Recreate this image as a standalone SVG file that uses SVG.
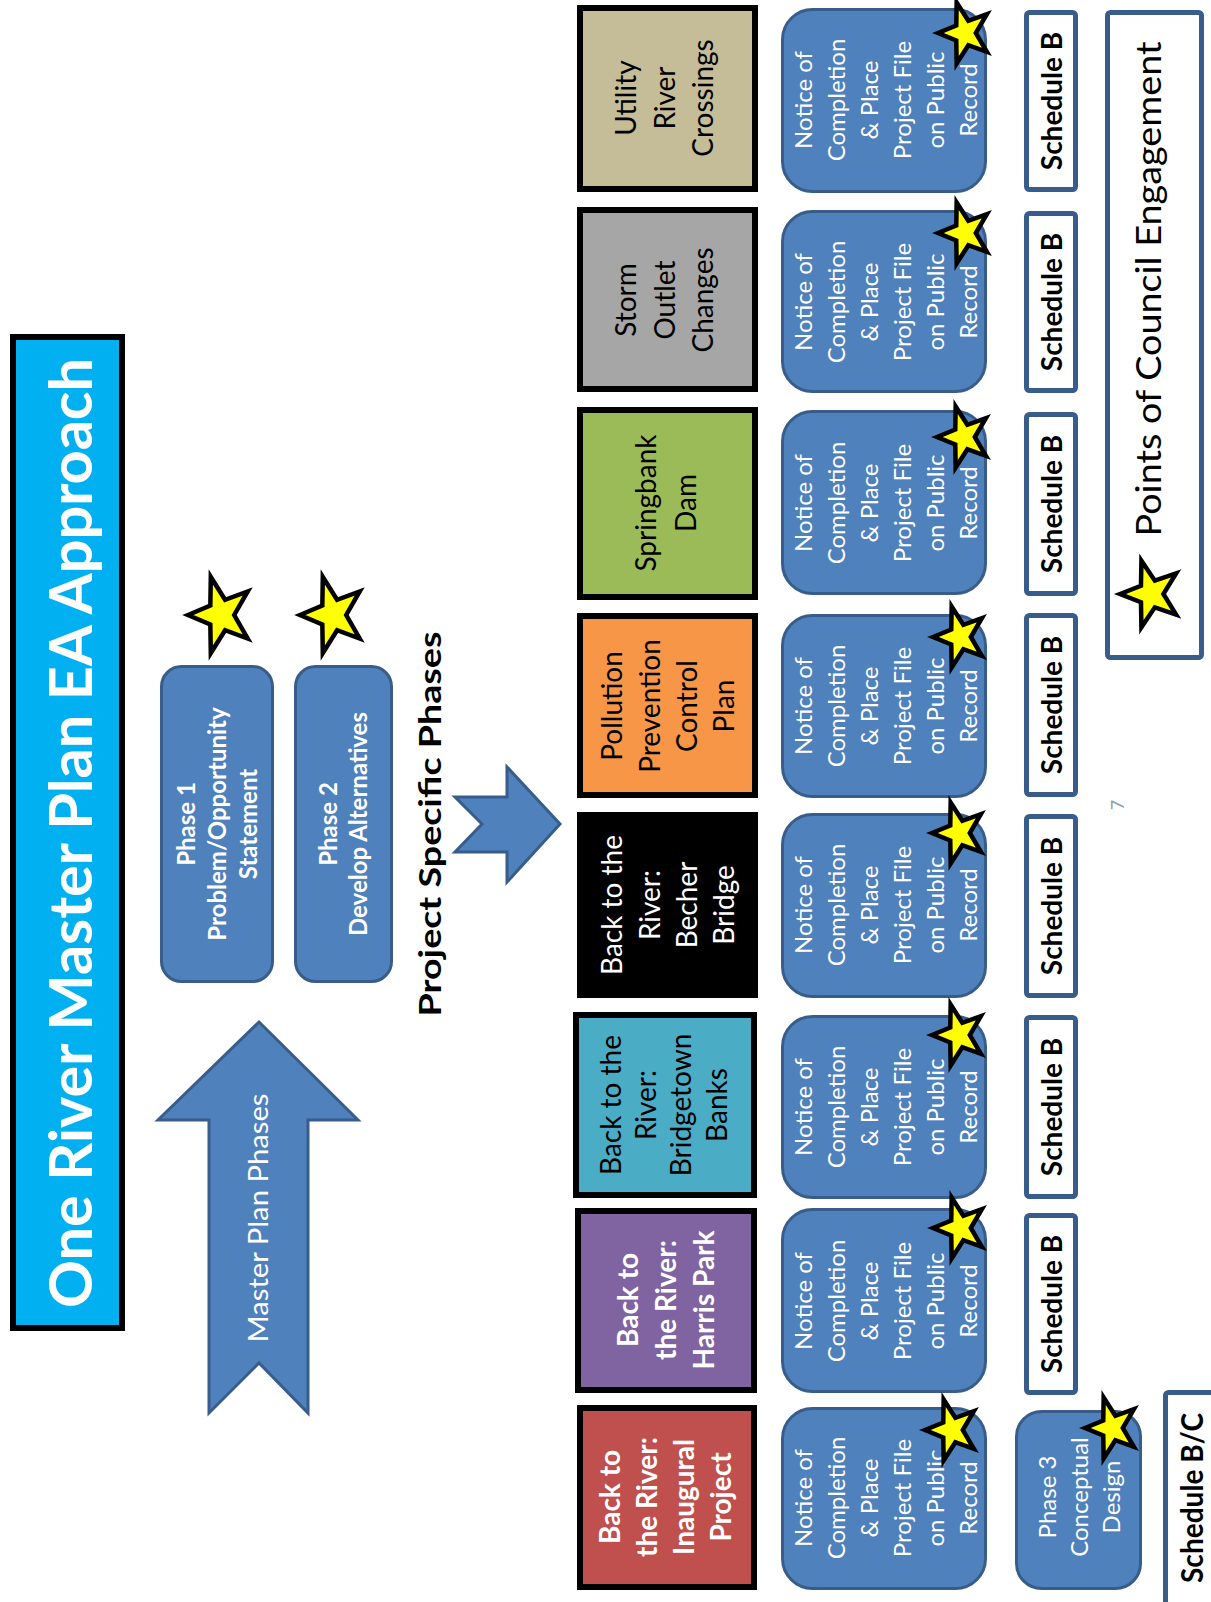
<svg xmlns="http://www.w3.org/2000/svg" xmlns:xlink="http://www.w3.org/1999/xlink" width="1211" height="1602" viewBox="0 0 1211 1602">
<style>
text{font-family:Lato,"Liberation Sans",sans-serif;}
.blue{fill:#4F81BD;stroke:#385D8A;stroke-width:3;}
.proj{stroke:#000;stroke-width:6;}
.sched{fill:#fff;stroke:#385D8A;stroke-width:5;}
.star{fill:#FFFF00;stroke:#000;stroke-width:4.5;vector-effect:non-scaling-stroke;stroke-linejoin:miter;stroke-miterlimit:10;}
.w{fill:#fff;}
.k{fill:#000;}
.b{font-weight:bold;}
.pt28{font-size:28px;text-anchor:middle;}
.nt{font-size:24px;text-anchor:middle;fill:#fff;}
.sb{font-size:28px;font-weight:bold;text-anchor:middle;fill:#000;}
</style>
<defs>
<path id="star" class="star" d="M-1,0 L-0.3236,-0.2351 L-0.309,-0.951 L0.1236,-0.3804 L0.809,-0.588 L0.4,0 L0.809,0.588 L0.1236,0.3804 L-0.309,0.951 L-0.3236,0.2351 Z"/>
</defs>

<g id="title">
<rect x="13" y="337" width="109" height="991" fill="#00B0F0" stroke="#000" stroke-width="6"/>
<text class="w b" font-size="60" text-anchor="middle" transform="translate(0,833) rotate(-90)" x="0" y="92" textLength="950" lengthAdjust="spacingAndGlyphs">One River Master Plan EA Approach</text>
</g>

<g id="connectors">
<g id="master-plan-arrow">
<polygon class="blue" points="259,1022 358,1120 308,1120 308,1413 259,1363 209,1413 209,1120 158,1120"/>
<text class="w" font-size="27" text-anchor="middle" transform="translate(0,1218) rotate(-90)" x="0" y="268" textLength="249" lengthAdjust="spacingAndGlyphs">Master Plan Phases</text>
</g>
<g id="project-arrow">
<polygon class="blue" points="455,797 507,797 507,767 560,824 507,882 507,852 455,852 482,824"/>
</g>
</g>

<g id="project-specific-label">
<text class="k b" font-size="31" text-anchor="middle" transform="translate(0,824) rotate(-90)" x="0" y="441" textLength="385" lengthAdjust="spacingAndGlyphs">Project Specific Phases</text>
</g>

<g id="phase1">
<rect class="blue" x="161.5" y="666.5" width="111" height="315" rx="20"/>
<text class="w b" font-size="24" text-anchor="middle" transform="translate(0,824) rotate(-90)"><tspan x="0" y="195">Phase 1</tspan><tspan x="0" y="226">Problem/Opportunity</tspan><tspan x="0" y="257">Statement</tspan></text>
<use xlink:href="#star" transform="translate(221,615) scale(33,40)"/>
</g>

<g id="phase2">
<rect class="blue" x="295.5" y="666.5" width="96" height="315" rx="20"/>
<text class="w b" font-size="24" text-anchor="middle" transform="translate(0,824) rotate(-90)"><tspan x="0" y="337">Phase 2</tspan><tspan x="0" y="367">Develop Alternatives</tspan></text>
<use xlink:href="#star" transform="translate(333,615) scale(33,40)"/>
</g>

<g id="utility">
<rect class="proj" x="580" y="8" width="175" height="181" fill="#C4BD97"/>
<text class="k pt28" transform="translate(0,98) rotate(-90)"><tspan x="0" y="636">Utility</tspan><tspan x="0" y="675">River</tspan><tspan x="0" y="713">Crossings</tspan></text>
</g>
<g id="storm">
<rect class="proj" x="580" y="210" width="175" height="179" fill="#A6A6A6"/>
<text class="k pt28" transform="translate(0,300) rotate(-90)"><tspan x="0" y="636">Storm</tspan><tspan x="0" y="675">Outlet</tspan><tspan x="0" y="713">Changes</tspan></text>
</g>
<g id="springbank">
<rect class="proj" x="580" y="410" width="175" height="187" fill="#9BBB59"/>
<text class="k pt28" transform="translate(0,503) rotate(-90)"><tspan x="0" y="656">Springbank</tspan><tspan x="0" y="696">Dam</tspan></text>
</g>
<g id="pollution">
<rect class="proj" x="580" y="616" width="175" height="179" fill="#F79646"/>
<text class="k pt28" transform="translate(0,706) rotate(-90)"><tspan x="0" y="622">Pollution</tspan><tspan x="0" y="660">Prevention</tspan><tspan x="0" y="697">Control</tspan><tspan x="0" y="734">Plan</tspan></text>
</g>
<g id="becher">
<rect class="proj" x="580" y="815" width="175" height="180" fill="#000"/>
<text class="w pt28" transform="translate(0,905) rotate(-90)"><tspan x="0" y="622">Back to the</tspan><tspan x="0" y="660">River:</tspan><tspan x="0" y="697">Becher</tspan><tspan x="0" y="734">Bridge</tspan></text>
</g>
<g id="bridgetown">
<rect class="proj" x="576" y="1015" width="178" height="180" fill="#4BACC6"/>
<text class="k pt28" transform="translate(0,1105) rotate(-90)"><tspan x="0" y="621">Back to the</tspan><tspan x="0" y="656">River:</tspan><tspan x="0" y="691">Bridgetown</tspan><tspan x="0" y="727">Banks</tspan></text>
</g>
<g id="harris">
<rect class="proj" x="578" y="1211" width="176" height="179" fill="#8064A2"/>
<text class="w b pt28" transform="translate(0,1300) rotate(-90)"><tspan x="0" y="638">Back to</tspan><tspan x="0" y="676">the River:</tspan><tspan x="0" y="714">Harris Park</tspan></text>
</g>
<g id="inaugural">
<rect class="proj" x="580" y="1408" width="174" height="179" fill="#C0504D"/>
<text class="w b pt28" transform="translate(0,1497) rotate(-90)"><tspan x="0" y="620">Back to</tspan><tspan x="0" y="657">the River:</tspan><tspan x="0" y="694">Inaugural</tspan><tspan x="0" y="731">Project</tspan></text>
</g>

<g id="notice-utility">
<rect class="blue" x="782.5" y="9.5" width="203" height="182" rx="30"/>
<text class="nt" transform="translate(0,100) rotate(-90)"><tspan x="0" y="812">Notice of</tspan><tspan x="0" y="845">Completion</tspan><tspan x="0" y="878">&amp; Place</tspan><tspan x="0" y="911">Project File</tspan><tspan x="0" y="944">on Public</tspan><tspan x="0" y="977">Record</tspan></text>
<use xlink:href="#star" transform="translate(965,33) scale(27,32)"/>
</g>
<g id="notice-storm">
<rect class="blue" x="782.5" y="211.5" width="203" height="180" rx="30"/>
<text class="nt" transform="translate(0,302) rotate(-90)"><tspan x="0" y="812">Notice of</tspan><tspan x="0" y="845">Completion</tspan><tspan x="0" y="878">&amp; Place</tspan><tspan x="0" y="911">Project File</tspan><tspan x="0" y="944">on Public</tspan><tspan x="0" y="977">Record</tspan></text>
<use xlink:href="#star" transform="translate(965,233) scale(27,32)"/>
</g>
<g id="notice-springbank">
<rect class="blue" x="782.5" y="411.5" width="203" height="182" rx="30"/>
<text class="nt" transform="translate(0,503) rotate(-90)"><tspan x="0" y="812">Notice of</tspan><tspan x="0" y="845">Completion</tspan><tspan x="0" y="878">&amp; Place</tspan><tspan x="0" y="911">Project File</tspan><tspan x="0" y="944">on Public</tspan><tspan x="0" y="977">Record</tspan></text>
<use xlink:href="#star" transform="translate(964,437) scale(27,32)"/>
</g>
<g id="notice-pollution">
<rect class="blue" x="782.5" y="615.5" width="203" height="181" rx="30"/>
<text class="nt" transform="translate(0,706) rotate(-90)"><tspan x="0" y="812">Notice of</tspan><tspan x="0" y="845">Completion</tspan><tspan x="0" y="878">&amp; Place</tspan><tspan x="0" y="911">Project File</tspan><tspan x="0" y="944">on Public</tspan><tspan x="0" y="977">Record</tspan></text>
<use xlink:href="#star" transform="translate(960,637) scale(27,32)"/>
</g>
<g id="notice-becher">
<rect class="blue" x="782.5" y="814.5" width="203" height="182" rx="30"/>
<text class="nt" transform="translate(0,905) rotate(-90)"><tspan x="0" y="812">Notice of</tspan><tspan x="0" y="845">Completion</tspan><tspan x="0" y="878">&amp; Place</tspan><tspan x="0" y="911">Project File</tspan><tspan x="0" y="944">on Public</tspan><tspan x="0" y="977">Record</tspan></text>
<use xlink:href="#star" transform="translate(959,833) scale(27,32)"/>
</g>
<g id="notice-bridgetown">
<rect class="blue" x="782.5" y="1016.5" width="203" height="181" rx="30"/>
<text class="nt" transform="translate(0,1107) rotate(-90)"><tspan x="0" y="812">Notice of</tspan><tspan x="0" y="845">Completion</tspan><tspan x="0" y="878">&amp; Place</tspan><tspan x="0" y="911">Project File</tspan><tspan x="0" y="944">on Public</tspan><tspan x="0" y="977">Record</tspan></text>
<use xlink:href="#star" transform="translate(959,1035) scale(27,32)"/>
</g>
<g id="notice-harris">
<rect class="blue" x="782.5" y="1209.5" width="203" height="182" rx="30"/>
<text class="nt" transform="translate(0,1301) rotate(-90)"><tspan x="0" y="812">Notice of</tspan><tspan x="0" y="845">Completion</tspan><tspan x="0" y="878">&amp; Place</tspan><tspan x="0" y="911">Project File</tspan><tspan x="0" y="944">on Public</tspan><tspan x="0" y="977">Record</tspan></text>
<use xlink:href="#star" transform="translate(960,1228) scale(27,32)"/>
</g>
<g id="notice-inaugural">
<rect class="blue" x="782.5" y="1408.5" width="203" height="180" rx="30"/>
<text class="nt" transform="translate(0,1498) rotate(-90)"><tspan x="0" y="812">Notice of</tspan><tspan x="0" y="845">Completion</tspan><tspan x="0" y="878">&amp; Place</tspan><tspan x="0" y="911">Project File</tspan><tspan x="0" y="944">on Public</tspan><tspan x="0" y="977">Record</tspan></text>
<use xlink:href="#star" transform="translate(952,1430) scale(27,32)"/>
</g>

<g id="schedule-utility"><rect class="sched" x="1026.5" y="12.5" width="49" height="177" rx="3"/><text class="sb" transform="translate(0,101) rotate(-90)" x="0" y="1062">Schedule B</text></g>
<g id="schedule-storm"><rect class="sched" x="1026.5" y="213.5" width="49" height="177" rx="3"/><text class="sb" transform="translate(0,302) rotate(-90)" x="0" y="1062">Schedule B</text></g>
<g id="schedule-springbank"><rect class="sched" x="1026.5" y="414.5" width="49" height="179" rx="3"/><text class="sb" transform="translate(0,504) rotate(-90)" x="0" y="1062">Schedule B</text></g>
<g id="schedule-pollution"><rect class="sched" x="1026.5" y="615.5" width="49" height="179" rx="3"/><text class="sb" transform="translate(0,705) rotate(-90)" x="0" y="1062">Schedule B</text></g>
<g id="schedule-becher"><rect class="sched" x="1026.5" y="816.5" width="49" height="179" rx="3"/><text class="sb" transform="translate(0,906) rotate(-90)" x="0" y="1062">Schedule B</text></g>
<g id="schedule-bridgetown"><rect class="sched" x="1026.5" y="1017.5" width="49" height="179" rx="3"/><text class="sb" transform="translate(0,1107) rotate(-90)" x="0" y="1062">Schedule B</text></g>
<g id="schedule-harris"><rect class="sched" x="1026.5" y="1215.5" width="49" height="177" rx="3"/><text class="sb" transform="translate(0,1304) rotate(-90)" x="0" y="1062">Schedule B</text></g>

<g id="phase3">
<rect class="blue" x="1016.5" y="1411.5" width="124" height="177" rx="25"/>
<text class="nt" transform="translate(0,1497) rotate(-90)"><tspan x="0" y="1056">Phase 3</tspan><tspan x="0" y="1088">Conceptual</tspan><tspan x="0" y="1120">Design</tspan></text>
<use xlink:href="#star" transform="translate(1112,1428) scale(27,32)"/>
</g>

<g id="schedule-bc">
<rect class="sched" x="1165.5" y="1392.5" width="60" height="230" rx="3"/>
<text class="k b" font-size="30" text-anchor="middle" transform="translate(0,1498) rotate(-90)" x="0" y="1203" textLength="170" lengthAdjust="spacingAndGlyphs">Schedule B/C</text>
</g>

<g id="legend">
<rect class="sched" x="1107.5" y="12.5" width="94" height="645" rx="3"/>
<text class="k" font-size="35" text-anchor="middle" transform="translate(0,289) rotate(-90)" x="0" y="1161" textLength="495" lengthAdjust="spacingAndGlyphs">Points of Council Engagement</text>
<use xlink:href="#star" transform="translate(1151,594) scale(31,35)"/>
</g>

<g id="page-number">
<text fill="#8A9BB5" font-size="18" text-anchor="middle" transform="translate(0,805) rotate(-90)" x="0" y="1124">7</text>
</g>
</svg>
